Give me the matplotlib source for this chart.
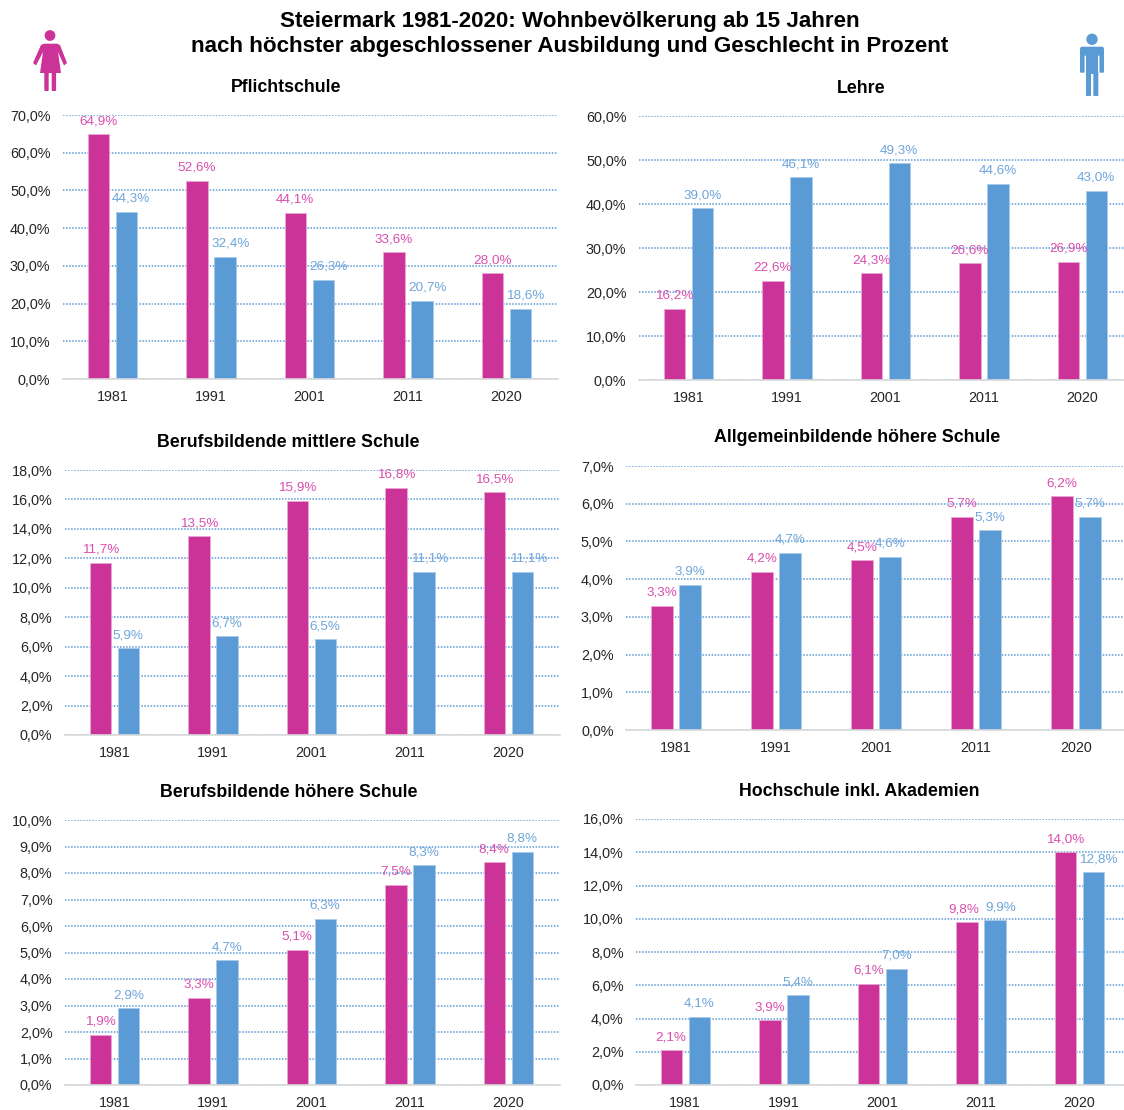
#!/usr/bin/env python
"""Steiermark 1981-2020: Bildungsstand nach Geschlecht, sechs Balkendiagramme."""

import matplotlib
matplotlib.use("Agg")
import matplotlib.pyplot as plt
from matplotlib.patches import Circle, FancyBboxPatch, Polygon

plt.rcParams["font.family"] = ["Liberation Sans", "DejaVu Sans"]

W, H = 1124, 1110
PINK = "#CC3399"
BLUE = "#5B9BD5"
PINK_TXT = "#DB4FAE"
BLUE_TXT = "#6FA6DA"
GRID = "#5B9BD5"

years = ["1981", "1991", "2001", "2011", "2020"]

pflicht_f = [64.9, 52.6, 44.1, 33.6, 28.0]
pflicht_m = [44.3, 32.4, 26.3, 20.7, 18.6]
lehre_f = [16.2, 22.6, 24.3, 26.6, 26.9]
lehre_m = [39.0, 46.1, 49.3, 44.6, 43.0]
bms_f = [11.7, 13.5, 15.9, 16.8, 16.5]
bms_m = [5.9, 6.7, 6.5, 11.1, 11.1]
ahs_f = [3.3, 4.2, 4.5, 5.65, 6.2]
ahs_m = [3.85, 4.7, 4.6, 5.3, 5.65]
bhs_f = [1.9, 3.3, 5.1, 7.55, 8.4]
bhs_m = [2.9, 4.7, 6.27, 8.3, 8.8]
hoch_f = [2.1, 3.9, 6.1, 9.8, 14.0]
hoch_m = [4.1, 5.4, 7.0, 9.9, 12.8]

fig = plt.figure(figsize=(W / 100, H / 100), dpi=100)


def panel(title, title_y, female, male, ymax, step, left, spacing, top, bottom, title_x,
          shift_f=(0, 0, 0, 0, 0), shift_m=(0, 0, 0, 0, 0)):
    # pixel box of the plot area -> figure fractions
    right = min(left + 5 * spacing + 2, W)
    ax = fig.add_axes([left / W, 1 - bottom / H, (right - left) / W, (bottom - top) / H])
    x = list(range(5))
    w = 21.5 / spacing
    off = 14 / spacing
    ax.bar([i - off for i in x], female, w, color=PINK, edgecolor="#E9A8D3", linewidth=0.6, zorder=3)
    ax.bar([i + off for i in x], male, w, color=BLUE, edgecolor="#A9CBEA", linewidth=0.6, zorder=3)
    ax.set_xlim(-0.5, -0.5 + (right - left) / spacing)
    ax.set_ylim(0, ymax)
    ticks = [step * i for i in range(int(round(ymax / step)) + 1)]
    ax.set_yticks(ticks)
    ax.set_yticklabels([f"{t:.1f}%".replace(".", ",") for t in ticks], fontsize=10.4, color="#262626")
    ax.set_xticks(x)
    ax.set_xticklabels(years, fontsize=10.3, color="#262626")
    ax.tick_params(length=0)
    ax.tick_params(axis="y", pad=9)
    ax.tick_params(axis="x", pad=8)
    ax.grid(True, axis="y", color=GRID, linewidth=1.1, linestyle=(0, (1, 1)), zorder=0)
    ax.set_axisbelow(True)
    for s in ["top", "right", "left"]:
        ax.spines[s].set_visible(False)
    ax.spines["bottom"].set_color("#D9D9D9")
    ax.spines["bottom"].set_linewidth(1.2)
    ax.spines["bottom"].set_zorder(4)
    for i in x:
        ax.annotate(f"{female[i]:.1f}%".replace(".", ","), (i - off, female[i]),
                    xytext=(shift_f[i] * 0.72, 5), textcoords="offset points", ha="center", va="bottom",
                    fontsize=9.7, color=PINK_TXT, zorder=5)
        ax.annotate(f"{male[i]:.1f}%".replace(".", ","), (i + off, male[i]),
                    xytext=(shift_m[i] * 0.72, 5), textcoords="offset points", ha="center", va="bottom",
                    fontsize=9.7, color=BLUE_TXT, zorder=5)
    fig.text(title_x / W, 1 - (title_y + 1.5) / H, title, ha="center", va="center",
             fontsize=12.8, fontweight="bold", color="black")
    return ax


panel("Pflichtschule", 86, pflicht_f, pflicht_m, 70, 10, 63, 98.5, 115, 379, 286,
      shift_m=(5, 6, 5, 6, 5))
panel("Lehre", 87, lehre_f, lehre_m, 60, 10, 639, 98.5, 116, 380, 861)
panel("Berufsbildende mittlere Schule", 441, bms_f, bms_m, 18, 2, 65, 98.5, 470, 735, 288,
      shift_m=(0, 0, 0, 6, 6))
panel("Allgemeinbildende höhere Schule", 436, ahs_f, ahs_m, 7, 1, 626, 100, 466, 730, 857)
panel("Berufsbildende höhere Schule", 791, bhs_f, bhs_m, 10, 1, 65, 98.5, 820, 1085, 289)
panel("Hochschule inkl. Akademien", 790, hoch_f, hoch_m, 16, 2, 636, 98.5, 819, 1085, 859,
      shift_f=(0, 0, 0, -3, 0), shift_m=(0, 0, 0, 6, 5))

fig.text(570 / W, 1 - 21.5 / H, "Steiermark 1981-2020: Wohnbevölkerung ab 15 Jahren", ha="center", va="center",
         fontsize=16.1, fontweight="bold", color="black")
fig.text(570 / W, 1 - 46.5 / H, "nach höchster abgeschlossener Ausbildung und Geschlecht in Prozent", ha="center",
         va="center", fontsize=16.1, fontweight="bold", color="black")

# Piktogramme in Pixelkoordinaten
icon = fig.add_axes([0, 0, 1, 1], facecolor="none")
icon.set_xlim(0, W)
icon.set_ylim(H, 0)
icon.axis("off")

icon.add_patch(Circle((50, 35.5), 5.4, color=PINK, lw=0))
icon.add_patch(Polygon([(44, 43.7), (57, 43.7), (60, 45), (67, 63), (64, 65.5), (58, 52), (61, 73), (40, 73),
                        (43, 52), (36, 65.5), (33, 63), (41, 45)], closed=True, color=PINK, lw=0))
icon.add_patch(FancyBboxPatch((45.3, 72), 2.4, 18, boxstyle="round,pad=1", color=PINK, lw=0))
icon.add_patch(FancyBboxPatch((52.7, 72), 2.4, 18, boxstyle="round,pad=1", color=PINK, lw=0))

icon.add_patch(Circle((1092, 39.3), 5.7, color=BLUE, lw=0))
icon.add_patch(FancyBboxPatch((1082, 48.7), 20, 5, boxstyle="round,pad=2", color=BLUE, lw=0))
icon.add_patch(FancyBboxPatch((1081, 50), 2.6, 21.7, boxstyle="round,pad=1", color=BLUE, lw=0))
icon.add_patch(FancyBboxPatch((1100.4, 50), 2.6, 21.7, boxstyle="round,pad=1", color=BLUE, lw=0))
icon.add_patch(FancyBboxPatch((1086, 50), 12.3, 24, boxstyle="square,pad=0", color=BLUE, lw=0))
icon.add_patch(FancyBboxPatch((1087, 72), 3, 23, boxstyle="round,pad=1", color=BLUE, lw=0))
icon.add_patch(FancyBboxPatch((1094.3, 72), 3, 23, boxstyle="round,pad=1", color=BLUE, lw=0))

fig.savefig("out.png", dpi=100)
